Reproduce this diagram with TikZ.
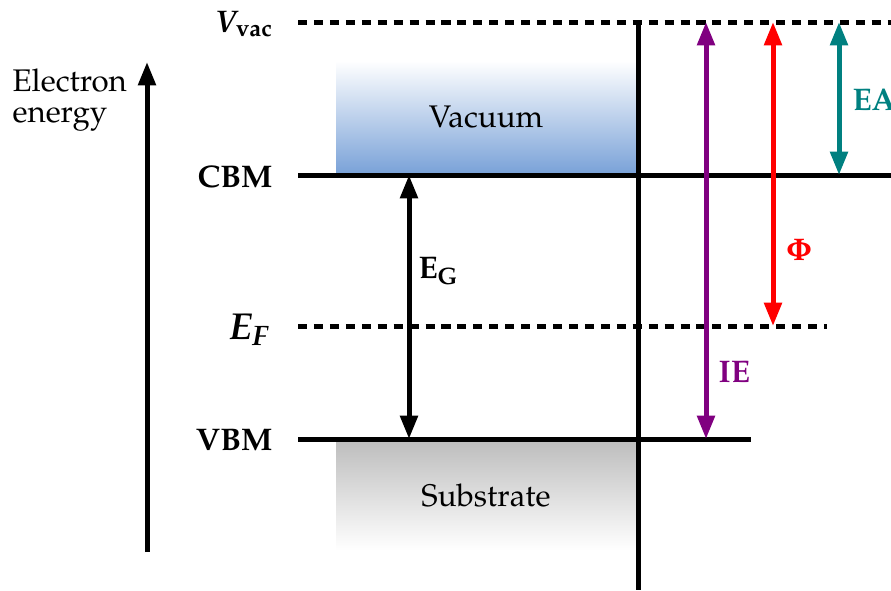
\documentclass[tikz,border=0pt]{standalone}
\usepackage[T1]{fontenc}
\usepackage{mathpazo}
\usepackage{xcolor}
\usetikzlibrary{arrows.meta,positioning}
\definecolor{vacblue}{RGB}{122,162,216}
\definecolor{subgray}{RGB}{190,190,190}
\definecolor{iepurple}{RGB}{128,0,128}
\definecolor{eateal}{RGB}{0,128,128}

\begin{document}
\begin{tikzpicture}[
  x=0.32pt, y=-0.32pt,
  bandline/.style={line width=1.6pt},
  dashline/.style={line width=1.6pt, dash pattern=on 2.9pt off 2.2pt},
  arrow/.style={line width=1.6pt, -{Triangle[length=7.5pt, width=5.5pt]}},
  dblarrow/.style={line width=1.6pt, {Triangle[length=7.5pt, width=5.5pt]}-{Triangle[length=7.5pt, width=5.5pt]}},
  zone/.style={minimum width=96pt, inner sep=0pt},
  lvlname/.style={font=\bfseries, anchor=east, inner sep=0pt},
  qtyname/.style={font=\bfseries, anchor=west, inner sep=0pt}
]
\useasboundingbox (0,0) rectangle (891,590);

\node[zone, minimum height=36pt, top color=white, bottom color=vacblue] (vacuum) at (486,117) {Vacuum};
\node[zone, minimum height=34.5pt, top color=subgray, bottom color=white] (substrate) at (486,496) {Substrate};

\coordinate (vacL) at (298,22);  \coordinate (vacR) at (891,22);
\coordinate (cbmL) at (298,175); \coordinate (cbmR) at (891,175);
\coordinate (efL) at (298,326);  \coordinate (efR) at (827,326);
\coordinate (vbmL) at (298,439); \coordinate (vbmR) at (751,439);
\coordinate (ifaceT) at (638,22); \coordinate (ifaceB) at (638,590);

\draw[dashline] (vacL) -- (vacR);
\draw[bandline] (cbmL) -- (cbmR);
\draw[dashline] (efL) -- (efR);
\draw[bandline] (vbmL) -- (vbmR);
\draw[bandline] (ifaceT) -- (ifaceB);

\node[lvlname] (vacname) at (274,24) {{\itshape V}\textsubscript{vac}};
\node[lvlname] (cbmname) at (273,177) {CBM};
\node[lvlname, font=\bfseries\fontsize{12}{14}\selectfont] (efname) at (270,330) {{\itshape E}\textsubscript{\itshape F}};
\node[lvlname] (vbmname) at (273,440) {VBM};

\coordinate (axisB) at (147,552);
\coordinate (axisT) at (147,62);
\draw[arrow] (axisB) -- (axisT);
\node[anchor=north west, inner sep=0pt, align=left, font=\fontsize{10}{10}\selectfont] (axisname) at (12,68) {Electron\\energy};

\coordinate (gap) at (409,0);
\coordinate (ie) at (706,0);
\coordinate (phi) at (773,0);
\coordinate (ea) at (839,0);

\draw[dblarrow] (gap |- cbmL) -- (gap |- vbmL);
\draw[dblarrow, iepurple] (ie |- vacL) -- (ie |- vbmL);
\draw[dblarrow, red] (phi |- vacL) -- (phi |- efL);
\draw[dblarrow, eateal] (ea |- vacL) -- (ea |- cbmL);

\node[qtyname] (eglabel) at (418,271) {E\textsubscript{G}};
\node[qtyname, red] (philabel) at (785,250) {$\mathbf{\Phi}$};
\node[qtyname, iepurple] (ielabel) at (718,372) {IE};
\node[qtyname, eateal] (ealabel) at (852,100) {EA};
\end{tikzpicture}
\end{document}
